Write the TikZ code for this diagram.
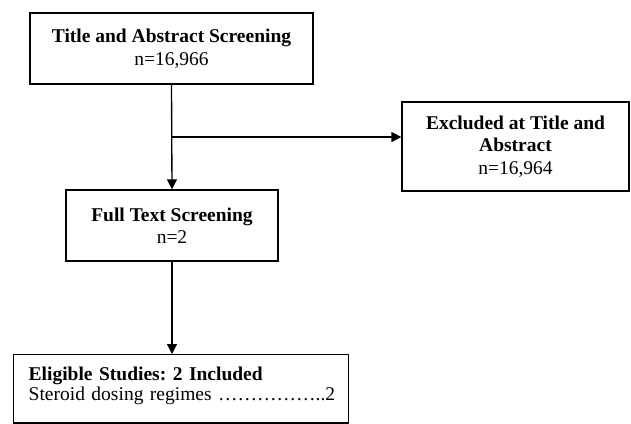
\documentclass[tikz,border=0pt]{standalone}
\usepackage{fontspec}
\setmainfont{Liberation Serif}
\frenchspacing
\usetikzlibrary{
  arrows.meta,
  calc,
  positioning,
}
\tikzstyle{box} = [
  draw,
  line width=0.8pt,
  align=center,
  inner sep=0pt,
  font=\fontsize{11.7}{13.5}\selectfont,
]
\tikzstyle{arrow} = [
  -{Triangle[width=6pt,length=6pt]},
  line width=0.8pt,
]

\begin{document}
\begin{tikzpicture}[x=0.6pt,y=-0.6pt]
      \useasboundingbox (0,0) rectangle (631,424);

      \node [box, minimum width=169.8pt, minimum height=42.6pt] (title) at (171.5,48.5)
        {\textbf{Title and Abstract Screening}\\n=16,966};
      \node [box, minimum width=127.2pt, minimum height=42.6pt] (full) at (172,225.5)
        {\textbf{Full Text Screening}\\n=2};
      \node [box, minimum width=136.2pt, minimum height=53.4pt] (excl) at (515.5,146.5)
        {\textbf{Excluded at Title and}\\\textbf{Abstract}\\n=16,964};
      \node [box, align=left, anchor=north west, text width=183pt, inner xsep=9pt,
        inner ysep=7.6pt, font=\fontsize{11.7}{11.5}\selectfont] (elig) at (13,354)
        {\textbf{Eligible Studies: 2 Included}\\
         \mbox{Steroid dosing regimes ……………..2}\rule[-6.2pt]{0pt}{6.2pt}};

      \coordinate (split) at (172,137);

      \draw [arrow] (title.south) -- (full.north);
      \draw [arrow] (split) -- (split -| excl.west);
      \draw [arrow] (full.south) -- (full.south |- elig.north);
    \end{tikzpicture}
\end{document}
